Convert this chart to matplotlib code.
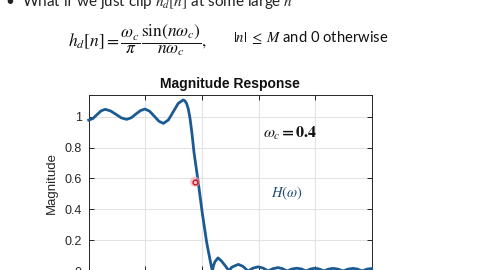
import matplotlib
matplotlib.use("Agg")
import matplotlib.pyplot as plt

plt.rcParams['mathtext.fontset'] = 'stix'

# Frequency (normalized, 0..1) and magnitude
freq = [0.000, 0.0145, 0.029, 0.0435, 0.058, 0.077, 0.096, 0.115, 0.134, 0.150,
        0.1665, 0.183, 0.199, 0.215, 0.2315, 0.248, 0.264, 0.2815, 0.299, 0.3165,
        0.334, 0.340, 0.346, 0.352, 0.358, 0.365, 0.372, 0.387, 0.401, 0.417,
        0.429, 0.437, 0.441, 0.446, 0.457, 0.469, 0.482, 0.496, 0.504, 0.512,
        0.529, 0.545, 0.563, 0.581, 0.599, 0.616, 0.634, 0.651, 0.669, 0.685,
        0.701, 0.718, 0.736, 0.752, 0.768, 0.784, 0.800, 0.816, 0.831, 0.847,
        0.863, 0.881, 0.899, 0.916, 0.934, 0.950, 0.966, 0.983, 1.000]
mag = [0.978, 0.988, 1.013, 1.038, 1.048, 1.038, 1.016, 0.993, 0.983, 0.993,
       1.017, 1.040, 1.050, 1.036, 1.004, 0.971, 0.957, 0.979, 1.033, 1.087,
       1.109, 1.103, 1.085, 1.050, 0.990, 0.890, 0.770, 0.576, 0.380, 0.184,
       0.070, 0.000, 0.035, 0.060, 0.085, 0.065, 0.035, 0.000, 0.022, 0.030,
       0.043, 0.030, 0.000, 0.019, 0.027, 0.019, 0.000, 0.015, 0.022, 0.015,
       0.000, 0.013, 0.018, 0.013, 0.000, 0.013, 0.018, 0.012, 0.000, 0.012,
       0.017, 0.012, 0.000, 0.012, 0.017, 0.012, 0.000, 0.012, 0.016]

cursor_x = [0.376]
cursor_y = [0.579]

yticks = [0, 0.2, 0.4, 0.6, 0.8, 1]
ytick_labels = ['0', '0.2', '0.4', '0.6', '0.8', '1']
xticks = [0, 0.2, 0.4, 0.6, 0.8, 1]

W, H = 480, 270
fig = plt.figure(figsize=(W / 100, H / 100), dpi=100)
fig.patch.set_facecolor('white')

# Slide text
fig.text(5 / W, 1 - 6 / H, '\u2022', fontsize=11, family='Lato', color='#222222',
         va='baseline', ha='left')
fig.text(21.7 / W, 1 - 6 / H, r'What if we just clip $h_d[n]$ at some large $n$',
         fontsize=11, family='Lato', color='#222222', va='baseline', ha='left')
fig.text(68 / W, 1 - 40 / H,
         r'$h_d[n] = \dfrac{\omega_c}{\pi}\dfrac{\sin(n\omega_c)}{n\omega_c},$',
         fontsize=12.5, color='#111111', va='center', ha='left')
fig.text(233 / W, 1 - 42.5 / H, r'$|n|\;\leq\; M$ and 0 otherwise',
         fontsize=10.6, family='Lato', color='#111111', va='baseline', ha='left')

# Axes
left = 88.7 / W
right = 371.7 / W
top = 1 - 95.3 / H
bottom = 1 - 271 / H
ax = fig.add_axes([left, bottom, right - left, top - bottom])
ax.set_xlim(0, 1)
ax.set_ylim(0, 1.139)

ax.grid(True, color='#e3e3e3', linewidth=0.8)
ax.set_axisbelow(True)
ax.set_xticks(xticks)
ax.set_yticks(yticks)
ax.set_yticklabels(ytick_labels)
ax.tick_params(direction='in', length=3.5, width=0.7, colors='#262626',
               labelsize=9, pad=5, top=True, right=True)
ax.tick_params(axis='x', labelbottom=False)
for lab in ax.get_yticklabels():
    lab.set_family('Liberation Sans')
for s in ax.spines.values():
    s.set_color('#262626')
    s.set_linewidth(0.7)

ax.plot(freq, mag, color='#1b5a93', linewidth=2.0, clip_on=False,
        solid_joinstyle='round', zorder=3)

ax.scatter(cursor_x, cursor_y, s=55, color='#f5a7b0', alpha=0.6,
           edgecolors='none', zorder=4)
ax.scatter(cursor_x, cursor_y, s=12, facecolor='#f3c4c8', edgecolors='#d0101e',
           linewidths=1.0, zorder=5)

ax.set_title('Magnitude Response', fontsize=10, fontweight='bold',
             family='Liberation Sans', color='#111111', pad=5)
ax.set_ylabel('Magnitude', fontsize=9.5, family='Liberation Sans',
              color='#262626', labelpad=5)

ax.text(0.711, 0.894, r'$\boldsymbol{\omega_c = 0.4}$', fontsize=11.5,
        color='#111111', ha='center', va='center')
ax.text(0.701, 0.505, r'$H(\omega)$', fontsize=10.5,
        color='#1f4e79', ha='center', va='center')

fig.savefig('out.png', dpi=100, facecolor='white')
